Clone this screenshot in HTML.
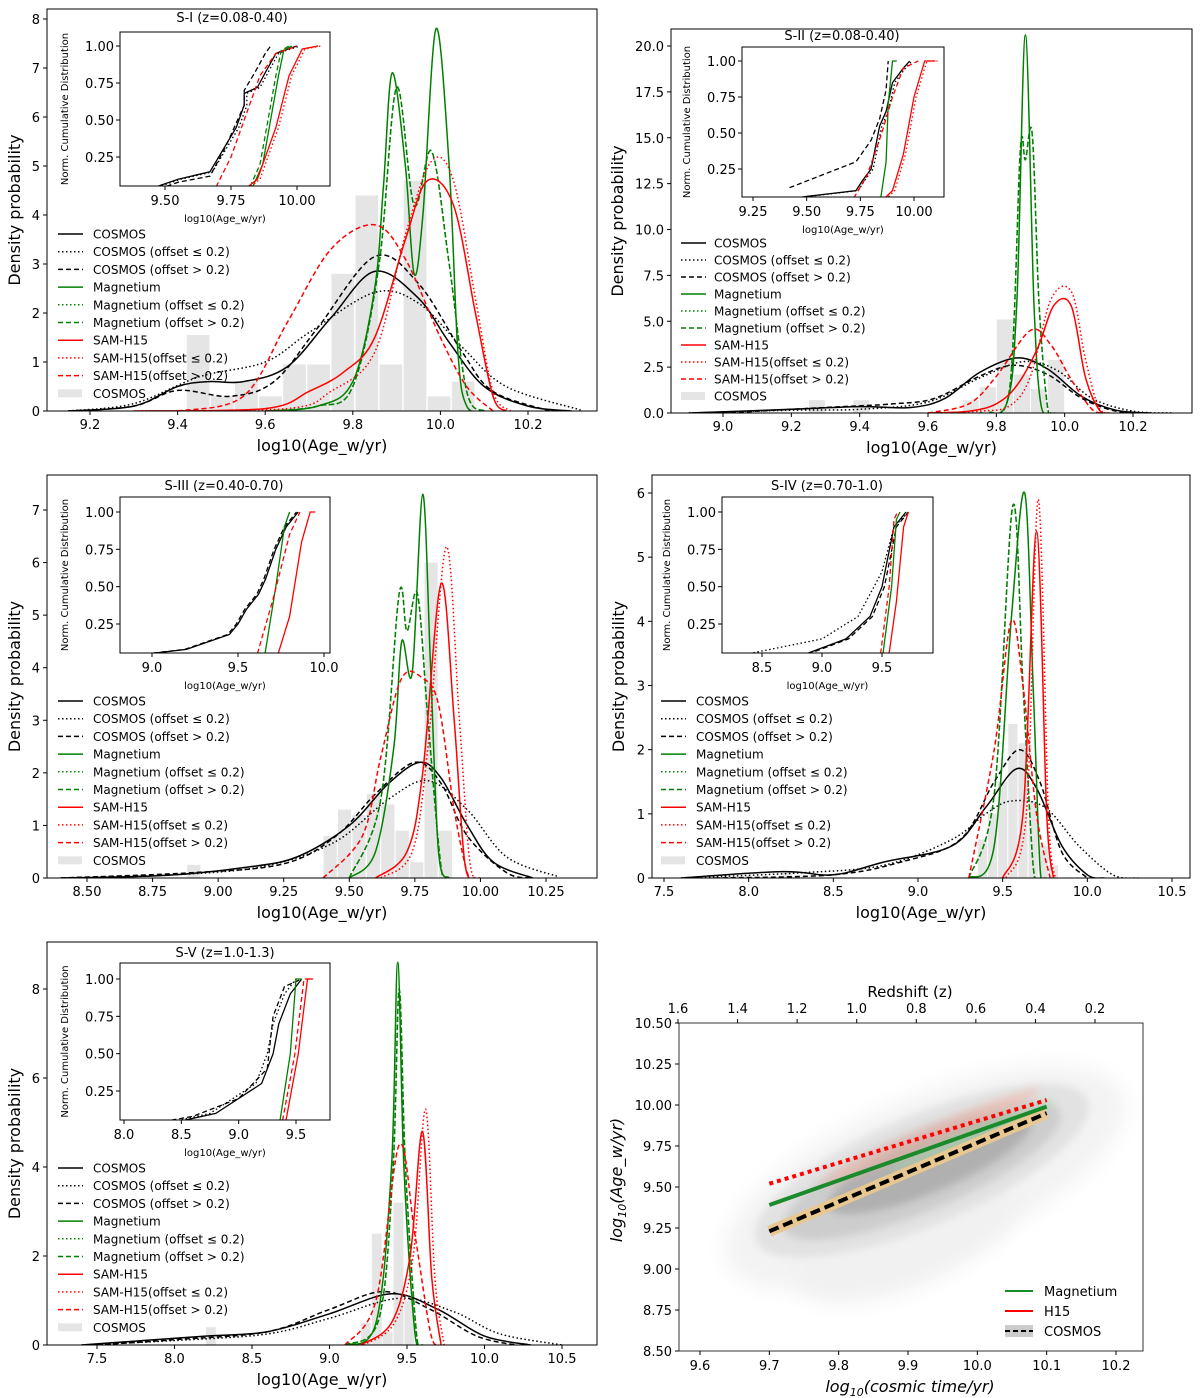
<!DOCTYPE html>
<html><head><meta charset="utf-8"><style>
html,body{margin:0;padding:0;background:#fff;}
svg{display:block;font-family:"DejaVu Sans","Liberation Sans",sans-serif;}
</style></head><body>
<svg id="fig" width="1200" height="1398" viewBox="0 0 1200 1398" xmlns="http://www.w3.org/2000/svg">
<defs>
<filter id="blur" x="-50%" y="-50%" width="200%" height="200%"><feGaussianBlur stdDeviation="10"/></filter>
<filter id="blur2" x="-50%" y="-50%" width="200%" height="200%"><feGaussianBlur stdDeviation="4"/></filter>
</defs>
</svg>
<script>
// ---------- DATA ----------
// Panel 1 (S-I)
const p1_cos=[[9.15,0],[9.3,0.1],[9.4,0.5],[9.47,0.6],[9.55,0.6],[9.65,0.9],[9.75,1.9],[9.85,2.85],[9.95,2.3],[10.02,1.4],[10.1,0.5],[10.2,0.1],[10.3,0]];
const p1_cosDot=[[9.15,0],[9.3,0.15],[9.45,0.7],[9.6,1.0],[9.7,1.6],[9.85,2.42],[9.95,2.2],[10.05,1.3],[10.15,0.5],[10.32,0.02]];
const p1_cosDash=[[9.15,0],[9.3,0.1],[9.4,0.42],[9.52,0.3],[9.62,0.6],[9.72,1.7],[9.85,3.15],[9.95,2.6],[10.05,1.2],[10.12,0.4],[10.25,0]];
const p1_mag=[[9.6,0],[9.72,0.1],[9.8,0.6],[9.85,2.5],[9.87,4.6],[9.89,6.9],[9.92,5],[9.94,2.8],[9.96,4],[9.99,7.8],[10.02,5],[10.04,1.2],[10.06,0.1],[10.1,0]];
const p1_magDash=[[9.6,0],[9.72,0.1],[9.8,0.5],[9.86,3],[9.9,6.6],[9.94,4.2],[9.98,5.3],[10.02,3],[10.06,0.4],[10.1,0]];
const p1_sam=[[9.3,0],[9.6,0.05],[9.7,0.4],[9.78,0.8],[9.85,1.5],[9.92,3.5],[9.97,4.7],[10.03,4.2],[10.08,2],[10.12,0.3],[10.15,0]];
const p1_samDot=[[9.3,0],[9.65,0.05],[9.75,0.4],[9.85,1.2],[9.92,3.6],[9.98,5.1],[10.03,4.7],[10.08,2.3],[10.12,0.4],[10.16,0]];
const p1_samDash=[[9.4,0],[9.55,0.3],[9.65,1.8],[9.75,3.3],[9.85,3.8],[9.92,3.1],[10.0,1.5],[10.06,0.5],[10.12,0]];
const p1_hist=[[9.42,1.55],[9.475,0.3],[9.53,0.6],[9.585,0.3],[9.64,0.95],[9.695,0.95],[9.75,2.8],[9.805,4.4],[9.86,0.95],[9.915,4.7],[9.97,0.3],[10.025,0.6]];
const p1i_cos=[[9.42,0.02],[9.55,0.1],[9.67,0.15],[9.72,0.3],[9.77,0.45],[9.8,0.6],[9.8,0.68],[9.85,0.72],[9.88,0.82],[9.92,0.95],[9.95,0.97],[10.0,1.0]];
const p1i_cosDash=[[9.42,0],[9.55,0.08],[9.67,0.12],[9.73,0.32],[9.8,0.6],[9.8,0.7],[9.84,0.82],[9.88,0.95],[9.9,1.0]];
const p1i_mag=[[9.82,0],[9.87,0.2],[9.9,0.5],[9.93,0.8],[9.95,0.97],[9.98,1.0]];
const p1i_sam=[[9.78,0],[9.85,0.1],[9.92,0.45],[9.97,0.8],[10.02,0.98],[10.08,1.0]];
const p1i_samDash=[[9.68,0],[9.75,0.25],[9.8,0.5],[9.86,0.8],[9.92,0.95],[10.0,1.0]];
// Panel 2 (S-II)
const p2_cos=[[8.9,0],[9.2,0.2],[9.4,0.35],[9.55,0.3],[9.65,0.8],[9.75,2.2],[9.86,3.0],[9.95,2.4],[10.05,0.9],[10.15,0.15],[10.25,0]];
const p2_cosDot=[[8.9,0],[9.2,0.15],[9.4,0.2],[9.6,0.6],[9.75,1.9],[9.88,2.8],[9.98,2.3],[10.08,0.8],[10.2,0.1],[10.32,0]];
const p2_cosDash=[[9.0,0],[9.3,0.3],[9.5,0.5],[9.62,0.8],[9.75,2.0],[9.85,2.6],[9.95,2.1],[10.05,0.8],[10.15,0.1],[10.25,0]];
const p2_mag=[[9.75,0],[9.83,0.5],[9.86,6],[9.885,20.6],[9.91,6],[9.93,0.5],[9.96,0]];
const p2_magDash=[[9.78,0],[9.84,1.5],[9.87,14.3],[9.885,13.8],[9.905,15.2],[9.925,6],[9.95,0.3],[9.97,0]];
const p2_sam=[[9.6,0],[9.72,0.1],[9.8,0.5],[9.86,1.5],[9.92,3.5],[9.97,5.9],[10.02,5.8],[10.06,2],[10.1,0.2],[10.13,0]];
const p2_samDot=[[9.6,0],[9.75,0.1],[9.84,0.4],[9.9,2],[9.96,6.2],[10.02,6.6],[10.06,3],[10.1,0.3],[10.14,0]];
const p2_samDash=[[9.6,0],[9.72,0.5],[9.8,2],[9.9,4.5],[9.96,3.7],[10.02,1.8],[10.08,0.2],[10.12,0]];
const p2_hist=[[9.25,0.7],[9.38,0.7],[9.7,0.7],[9.75,1.4],[9.8,5.1],[9.85,2.1],[9.9,1.3],[9.95,2.9]];
const p2i_cos=[[9.27,0.01],[9.5,0.06],[9.73,0.1],[9.76,0.17],[9.8,0.25],[9.82,0.4],[9.84,0.55],[9.87,0.65],[9.9,0.85],[9.95,0.95],[9.98,1.0]];
const p2i_cosDash=[[9.42,0.12],[9.73,0.3],[9.8,0.45],[9.84,0.6],[9.87,0.8],[9.88,1.0]];
const p2i_mag=[[9.84,0],[9.87,0.3],[9.88,0.7],[9.9,1.0],[9.92,1.0]];
const p2i_sam=[[9.83,0],[9.9,0.1],[9.95,0.35],[10.0,0.75],[10.05,1.0],[10.1,1.0]];
const p2i_samDash=[[9.7,0],[9.78,0.2],[9.85,0.5],[9.9,0.75],[9.95,0.95],[10.02,1.0]];
// Panel 3 (S-III)
const p3_cos=[[8.4,0],[8.8,0.05],[9.1,0.2],[9.3,0.4],[9.5,1.0],[9.65,1.8],[9.77,2.2],[9.85,1.9],[9.95,1.0],[10.05,0.3],[10.2,0]];
const p3_cosDot=[[8.4,0],[8.9,0.08],[9.2,0.25],[9.45,0.7],[9.65,1.5],[9.8,1.85],[9.95,1.3],[10.1,0.4],[10.3,0.02]];
const p3_cosDash=[[8.4,0],[8.9,0.1],[9.25,0.27],[9.45,0.8],[9.6,1.6],[9.75,2.2],[9.85,1.8],[9.95,0.8],[10.1,0.1],[10.2,0]];
const p3_mag=[[9.5,0],[9.6,0.5],[9.67,2.5],[9.7,4.5],[9.74,3.9],[9.78,7.3],[9.81,4],[9.84,0.5],[9.88,0]];
const p3_magDash=[[9.5,0],[9.62,1.5],[9.69,5.4],[9.72,4.7],[9.76,5.4],[9.8,3],[9.85,0.2],[9.88,0]];
const p3_sam=[[9.6,0],[9.72,0.5],[9.78,2],[9.85,5.6],[9.9,3],[9.94,0.3],[9.98,0]];
const p3_samDot=[[9.62,0],[9.74,0.5],[9.8,2.5],[9.87,6.3],[9.92,3],[9.96,0.3],[10.0,0]];
const p3_samDash=[[9.4,0],[9.55,0.8],[9.62,2.3],[9.7,3.8],[9.78,3.8],[9.84,3.3],[9.9,1.3],[9.95,0.1],[9.98,0]];
const p3_hist=[[8.88,0.25],[9.4,0.8],[9.455,1.3],[9.51,1.2],[9.565,1.6],[9.62,1.4],[9.675,0.9],[9.73,0.3],[9.785,6.0],[9.84,0.9]];
const p3i_cos=[[8.6,0],[9.2,0.08],[9.45,0.18],[9.5,0.25],[9.55,0.35],[9.62,0.45],[9.66,0.55],[9.72,0.75],[9.78,0.9],[9.85,1.0]];
const p3i_mag=[[9.65,0],[9.72,0.5],[9.77,0.9],[9.8,1.0]];
const p3i_sam=[[9.72,0],[9.8,0.3],[9.87,0.8],[9.92,1.0],[9.95,1.0]];
const p3i_samDash=[[9.6,0],[9.7,0.4],[9.8,0.85],[9.86,1.0]];
// Panel 4 (S-IV)
const p4_cos=[[7.6,0],[8.2,0.1],[8.5,0.05],[8.8,0.25],[9.2,0.5],[9.4,1.1],[9.58,1.7],[9.7,1.4],[9.85,0.5],[10.0,0.05],[10.1,0]];
const p4_cosDot=[[7.6,0],[8.3,0.08],[8.8,0.2],[9.2,0.6],[9.4,1.0],[9.55,1.2],[9.75,1.1],[9.95,0.5],[10.15,0.05],[10.3,0]];
const p4_cosDash=[[7.8,0],[8.5,0.05],[8.9,0.25],[9.25,0.6],[9.45,1.5],[9.6,2.0],[9.72,1.5],[9.85,0.4],[10.0,0]];
const p4_mag=[[9.3,0],[9.45,0.5],[9.55,4],[9.63,6.0],[9.68,3],[9.72,0.2],[9.75,0]];
const p4_magDash=[[9.3,0],[9.45,1.3],[9.56,5.8],[9.62,3],[9.68,0.2],[9.72,0]];
const p4_sam=[[9.5,0],[9.62,1],[9.7,5.4],[9.76,1],[9.8,0]];
const p4_samDot=[[9.52,0],[9.64,1],[9.71,5.9],[9.77,1],[9.81,0]];
const p4_samDash=[[9.3,0],[9.45,2],[9.55,4.0],[9.62,3],[9.7,1],[9.78,0]];
const p4_hist=[[8.2,0.1],[9.35,0.6],[9.41,1.0],[9.47,1.5],[9.53,2.4],[9.59,2.1],[9.65,1.2],[9.71,0.5],[9.77,0.2]];
const p4i_cos=[[8.2,0],[8.8,0.03],[9.2,0.15],[9.4,0.3],[9.5,0.5],[9.55,0.7],[9.6,0.9],[9.7,1.0]];
const p4i_cosDot=[[8.2,0.02],[9.0,0.15],[9.3,0.3],[9.5,0.6],[9.6,0.9],[9.72,1.0]];
const p4i_mag=[[9.5,0],[9.58,0.5],[9.62,0.95],[9.65,1.0]];
const p4i_sam=[[9.55,0],[9.62,0.4],[9.68,0.9],[9.72,1.0]];
// Panel 5 (S-V)
const p5_cos=[[7.4,0],[7.8,0.1],[8.2,0.2],[8.6,0.3],[9.0,0.7],[9.4,1.15],[9.7,0.8],[10.0,0.2],[10.3,0]];
const p5_cosDot=[[7.4,0],[8.0,0.1],[8.6,0.25],[9.0,0.6],[9.45,1.05],[9.8,0.75],[10.1,0.25],[10.5,0]];
const p5_cosDash=[[7.5,0],[8.0,0.12],[8.6,0.3],[9.0,0.8],[9.35,1.2],[9.65,0.8],[9.95,0.2],[10.2,0]];
const p5_mag=[[9.1,0],[9.3,0.5],[9.4,4],[9.44,8.6],[9.48,4],[9.55,0.3],[9.6,0]];
const p5_magDash=[[9.1,0],[9.32,0.6],[9.41,4],[9.45,8.0],[9.49,4],[9.56,0.3],[9.6,0]];
const p5_sam=[[9.2,0],[9.4,0.5],[9.52,2],[9.6,4.8],[9.66,1.5],[9.72,0]];
const p5_samDot=[[9.22,0],[9.42,0.5],[9.54,2],[9.62,5.3],[9.68,1.5],[9.74,0]];
const p5_samDash=[[9.1,0],[9.3,1],[9.45,4.5],[9.55,2.5],[9.65,0.3],[9.7,0]];
const p5_hist=[[8.2,0.4],[9.2,0.5],[9.27,2.5],[9.34,0.3],[9.41,3.2],[9.48,1.0]];
const p5i_cos=[[8.0,0],[8.5,0.05],[8.8,0.1],[9.0,0.2],[9.2,0.3],[9.3,0.5],[9.35,0.7],[9.45,0.9],[9.55,1.0]];
const p5i_cosDash=[[8.0,0],[8.6,0.08],[9.0,0.2],[9.25,0.4],[9.3,0.75],[9.4,0.95],[9.55,1.0]];
const p5i_mag=[[9.35,0],[9.45,0.5],[9.5,1.0],[9.55,1.0]];
const p5i_sam=[[9.4,0],[9.52,0.5],[9.6,1.0],[9.65,1.0]];
// Panel 6 (trend)
const p6_time=[9.7,10.1];
const p6_h15=[9.52,10.03];
const p6_mag=[9.39,9.99];
const p6_cosmos=[9.23,9.95];
const p6_yticks=[8.50,8.75,9.00,9.25,9.50,9.75,10.00,10.25,10.50];
const p6_xticks=[9.6,9.7,9.8,9.9,10.0,10.1,10.2];
const p6_zticks=["1.6","1.4","1.2","1.0","0.8","0.6","0.4","0.2"];
// ---------- DRAW ----------
const NS="http://www.w3.org/2000/svg";
const fig=document.getElementById('fig');
function el(tag,attrs,parent,text){const e=document.createElementNS(NS,tag);for(const k in attrs)e.setAttribute(k,attrs[k]);if(text!==undefined)e.textContent=text;(parent||fig).appendChild(e);return e;}
function lin(v1,p1,v2,p2){return v=>p1+(v-v1)*(p2-p1)/(v2-v1);}
function smooth(pts){let d='M'+pts[0][0].toFixed(1)+','+pts[0][1].toFixed(1);
for(let i=0;i<pts.length-1;i++){const p0=pts[i-1]||pts[i],p1=pts[i],p2=pts[i+1],p3=pts[i+2]||p2;
const c1=[p1[0]+(p2[0]-p0[0])/6,p1[1]+(p2[1]-p0[1])/6],c2=[p2[0]-(p3[0]-p1[0])/6,p2[1]-(p3[1]-p1[1])/6];
d+=' C'+c1.map(n=>n.toFixed(1))+' '+c2.map(n=>n.toFixed(1))+' '+p2[0].toFixed(1)+','+p2[1].toFixed(1);}return d;}
const GREEN='#008000',RED='#ff0000';
const DASH={solid:'',dot:'1.5,2.5',dash:'5,3'};
let clipN=0;
function panel(c){
 const g=el('g',{});
 
 
 const [L,R,T,B]=c.ax;const X=lin(...c.xr),Y=lin(...c.yr);
 const cid='clip'+(clipN++);const cp=el('clipPath',{id:cid},g);el('rect',{x:L,y:T,width:R-L,height:B-T},cp);
 const plot=el('g',{'clip-path':'url(#'+cid+')'},g);
 c.hist.forEach(h=>{const r=el('rect',{x:X(h[0])+0.5,y:Y(h[1]),width:X(h[0]+c.bw)-X(h[0])-1,height:Y(0)-Y(h[1]),fill:'#e5e5e5'},plot);
  
  });
 c.curves.forEach(cv=>{const p=el('path',{d:smooth(cv.d.map(q=>[X(q[0]),Y(Math.max(0,q[1]))])),fill:'none',stroke:cv.c,'stroke-width':1.5,'stroke-dasharray':DASH[cv.s]},plot);
  
  });
 const fr=el('rect',{x:L,y:T,width:R-L,height:B-T,fill:'none',stroke:'#000','stroke-width':1},g);
 
 
 c.xt.forEach(t=>{const x=X(t);el('line',{x1:x,x2:x,y1:B,y2:B+4,stroke:'#000'},g);const tx=el('text',{x:x,y:B+18,'font-size':13,'text-anchor':'middle'},g,c.xf(t));
  
  });
 c.yt.forEach(t=>{const y=Y(t);el('line',{x1:L,x2:L-4,y1:y,y2:y,stroke:'#000'},g);const tx=el('text',{x:L-7,y:y+5,'font-size':13,'text-anchor':'end'},g,c.yf(t));
  
  });
 const xl=el('text',{x:(L+R)/2,y:B+40,'font-size':16,'text-anchor':'middle'},g,'log10(Age_w/yr)');
 
 
 const yl=el('text',{x:0,y:0,'font-size':16,'text-anchor':'middle',transform:'translate('+c.ylx+','+(T+B)/2+') rotate(-90)'},g,'Density probability');
 
 
 const [iL,iR,iT,iB]=c.in;const IX=lin(...c.ixr),IY=lin(1,c.iy1,0.25,c.iy25);
 const ig=el('g',{},g);
 
 
 el('rect',{x:iL,y:iT,width:iR-iL,height:iB-iT,fill:'#fff'},ig);
 const icid='clip'+(clipN++);const icp=el('clipPath',{id:icid},ig);el('rect',{x:iL,y:iT,width:iR-iL,height:iB-iT},icp);
 const ip=el('g',{'clip-path':'url(#'+icid+')'},ig);
 c.icurves.forEach(cv=>{const p=el('polyline',{points:cv.d.map(q=>IX(q[0]).toFixed(1)+','+IY(q[1]).toFixed(1)).join(' '),fill:'none',stroke:cv.c,'stroke-width':1.3,'stroke-dasharray':DASH[cv.s]},ip);
  
  });
 el('rect',{x:iL,y:iT,width:iR-iL,height:iB-iT,fill:'none',stroke:'#000'},ig);
 [0.25,0.5,0.75,1].forEach(t=>{const y=IY(t);el('line',{x1:iL,x2:iL-4,y1:y,y2:y,stroke:'#000'},ig);el('text',{x:iL-6,y:y+5,'font-size':13,'text-anchor':'end'},ig,t.toFixed(2));});
 c.ixt.forEach(t=>{const x=IX(t);el('line',{x1:x,x2:x,y1:iB,y2:iB+4,stroke:'#000'},ig);el('text',{x:x,y:iB+19,'font-size':13,'text-anchor':'middle'},ig,c.ixf(t));});
 el('text',{x:(iL+iR)/2,y:iB+36,'font-size':10,'text-anchor':'middle'},ig,'log10(Age_w/yr)');
 el('text',{x:0,y:0,'font-size':10,'text-anchor':'middle',transform:'translate('+(iL-52)+','+(iT+iB)/2+') rotate(-90)'},ig,'Norm. Cumulative Distribution');
 const tt=el('text',{x:c.title[1],y:c.title[2],'font-size':13,'text-anchor':'middle'},g,c.title[0]);
 
 
 const labs=[['COSMOS','#000','solid'],['COSMOS (offset \u2264 0.2)','#000','dot'],['COSMOS (offset > 0.2)','#000','dash'],['Magnetium',GREEN,'solid'],['Magnetium (offset \u2264 0.2)',GREEN,'dot'],['Magnetium (offset > 0.2)',GREEN,'dash'],['SAM-H15',RED,'solid'],['SAM-H15(offset \u2264 0.2)',RED,'dot'],['SAM-H15(offset > 0.2)',RED,'dash'],['COSMOS','#ddd','patch']];
 const lg=el('g',{},g);
 
 
 labs.forEach((lb,i)=>{const y=c.leg[1]+i*c.leg[2];const x=c.leg[0];
  if(lb[2]==='patch')el('rect',{x:x,y:y-4,width:24,height:8,fill:'#e5e5e5'},lg);
  else el('line',{x1:x,x2:x+25,y1:y,y2:y,stroke:lb[1],'stroke-width':1.5,'stroke-dasharray':DASH[lb[2]]},lg);
  const t=el('text',{x:x+c.leg[3],y:y+4.5,'font-size':12},lg,lb[0]);
  
  });
}
function cv(n,d,c,s){return {n:n,d:d,c:c,s:s};}
function stdCurves(p){return [cv('cosmos-kde',p.cos,'#000','solid'),cv('cosmos-kde-low-offset',p.cosDot,'#000','dot'),cv('cosmos-kde-high-offset',p.cosDash,'#000','dash'),
 cv('magnetium-kde-low-offset',p.magDash,GREEN,'dot'),cv('magnetium-kde-high-offset',p.magDash,GREEN,'dash'),cv('magnetium-kde',p.mag,GREEN,'solid'),
 cv('sam-kde-low-offset',p.samDot,RED,'dot'),cv('sam-kde-high-offset',p.samDash,RED,'dash'),cv('sam-kde',p.sam,RED,'solid')];}
const f1=t=>t.toFixed(1),f0=t=>String(t),f2=t=>t.toFixed(2);
panel({name:'panel-s1',ax:[47,597,9,411],xr:[9.2,90,10.2,528],yr:[0,411,8,19],bw:0.054,hist:p1_hist,
 curves:stdCurves({cos:p1_cos,cosDot:p1_cosDot,cosDash:p1_cosDash,mag:p1_mag,magDash:p1_magDash,sam:p1_sam,samDot:p1_samDot,samDash:p1_samDash}),
 xt:[9.2,9.4,9.6,9.8,10.0,10.2],xf:f1,yt:[0,1,2,3,4,5,6,7,8],yf:f0,ylx:20,
 in:[120,330,32,186],ixr:[9.5,165,10,297],iy1:46,iy25:157,ixt:[9.5,9.75,10.0],ixf:f2,
 icurves:[cv('cdf-cosmos',p1i_cos,'#000','solid'),cv('cdf-cosmos-dash',p1i_cosDash,'#000','dash'),cv('cdf-cosmos-dot',p1i_cos.map(q=>[q[0]+0.01,q[1]]),'#000','dot'),cv('cdf-mag',p1i_mag,GREEN,'solid'),cv('cdf-mag-dash',p1i_mag.map(q=>[q[0]-0.01,q[1]]),GREEN,'dash'),cv('cdf-sam',p1i_sam,RED,'solid'),cv('cdf-sam-dot',p1i_sam.map(q=>[q[0]+0.01,q[1]]),RED,'dot'),cv('cdf-sam-dash',p1i_samDash,RED,'dash')],
 title:['S-I (z=0.08-0.40)',232,22],leg:[58,234,17.7,35]});
panel({name:'panel-s2',ax:[671,1192,29,413],xr:[9.0,723,10.2,1133],yr:[0,413,20,46],bw:0.05,hist:p2_hist,
 curves:stdCurves({cos:p2_cos,cosDot:p2_cosDot,cosDash:p2_cosDash,mag:p2_mag,magDash:p2_magDash,sam:p2_sam,samDot:p2_samDot,samDash:p2_samDash}),
 xt:[9.0,9.2,9.4,9.6,9.8,10.0,10.2],xf:f1,yt:[0,2.5,5,7.5,10,12.5,15,17.5,20],yf:f1,ylx:623,
 in:[742,944,47,197],ixr:[9.25,753,10,914],iy1:61,iy25:169,ixt:[9.25,9.5,9.75,10.0],ixf:f2,
 icurves:[cv('cdf-cosmos',p2i_cos,'#000','solid'),cv('cdf-cosmos-dot',p2i_cos.map(q=>[q[0]+0.01,q[1]]),'#000','dot'),cv('cdf-cosmos-dash',p2i_cosDash,'#000','dash'),cv('cdf-mag',p2i_mag,GREEN,'solid'),cv('cdf-sam',p2i_sam,RED,'solid'),cv('cdf-sam-dot',p2i_sam.map(q=>[q[0]+0.01,q[1]]),RED,'dot'),cv('cdf-sam-dash',p2i_samDash,RED,'dash')],
 title:['S-II (z=0.08-0.40)',842,40],leg:[681,243,17,33]});
panel({name:'panel-s3',ax:[47,597,475,878],xr:[8.5,87,10.25,546],yr:[0,878,7,510],bw:0.054,hist:p3_hist,
 curves:stdCurves({cos:p3_cos,cosDot:p3_cosDot,cosDash:p3_cosDash,mag:p3_mag,magDash:p3_magDash,sam:p3_sam,samDot:p3_samDot,samDash:p3_samDash}),
 xt:[8.5,8.75,9,9.25,9.5,9.75,10,10.25],xf:f2,yt:[0,1,2,3,4,5,6,7],yf:f0,ylx:20,
 in:[120,330,497,653],ixr:[9,152,10,324],iy1:512,iy25:624,ixt:[9,9.5,10],ixf:f1,
 icurves:[cv('cdf-cosmos',p3i_cos,'#000','solid'),cv('cdf-cosmos-dash',p3i_cos.map(q=>[q[0]-0.01,q[1]]),'#000','dash'),cv('cdf-mag',p3i_mag,GREEN,'solid'),cv('cdf-sam',p3i_sam,RED,'solid'),cv('cdf-sam-dash',p3i_samDash,RED,'dash')],
 title:['S-III (z=0.40-0.70)',224,490],leg:[58,701,17.7,35]});
panel({name:'panel-s4',ax:[652,1190,475,878],xr:[7.5,664,10.5,1172],yr:[0,878,6,493],bw:0.06,hist:p4_hist,
 curves:stdCurves({cos:p4_cos,cosDot:p4_cosDot,cosDash:p4_cosDash,mag:p4_mag,magDash:p4_magDash,sam:p4_sam,samDot:p4_samDot,samDash:p4_samDash}),
 xt:[7.5,8,8.5,9,9.5,10,10.5],xf:f1,yt:[0,1,2,3,4,5,6],yf:f0,ylx:624,
 in:[722,933,497,653],ixr:[8.5,762,9.5,882],iy1:512,iy25:624,ixt:[8.5,9,9.5],ixf:f1,
 icurves:[cv('cdf-cosmos',p4i_cos,'#000','solid'),cv('cdf-cosmos-dot',p4i_cosDot,'#000','dot'),cv('cdf-cosmos-dash',p4i_cos.map(q=>[q[0]+0.02,q[1]]),'#000','dash'),cv('cdf-mag',p4i_mag,GREEN,'solid'),cv('cdf-sam',p4i_sam,RED,'solid'),cv('cdf-sam-dash',p4i_mag.map(q=>[q[0]-0.02,q[1]]),RED,'dash')],
 title:['S-IV (z=0.70-1.0)',827,490],leg:[661,701,17.7,35]});
panel({name:'panel-s5',ax:[47,597,942,1345],xr:[7.5,97,10.5,562],yr:[0,1345,8,989],bw:0.07,hist:p5_hist,
 curves:stdCurves({cos:p5_cos,cosDot:p5_cosDot,cosDash:p5_cosDash,mag:p5_mag,magDash:p5_magDash,sam:p5_sam,samDot:p5_samDot,samDash:p5_samDash}),
 xt:[7.5,8,8.5,9,9.5,10,10.5],xf:f1,yt:[0,2,4,6,8],yf:f0,ylx:20,
 in:[120,330,963,1120],ixr:[8,124,9.5,296],iy1:979,iy25:1091,ixt:[8,8.5,9,9.5],ixf:f1,
 icurves:[cv('cdf-cosmos',p5i_cos,'#000','solid'),cv('cdf-cosmos-dot',p5i_cos.map(q=>[q[0]-0.05,q[1]]),'#000','dot'),cv('cdf-cosmos-dash',p5i_cosDash,'#000','dash'),cv('cdf-mag',p5i_mag,GREEN,'solid'),cv('cdf-sam',p5i_sam,RED,'solid'),cv('cdf-sam-dash',p5i_sam.map(q=>[q[0]-0.03,q[1]]),RED,'dash')],
 title:['S-V (z=1.0-1.3)',225,957],leg:[58,1168,17.7,35]});
// Panel 6
(function(){
 const L=679,R=1143,T=1023,B=1351;
 const X=lin(9.6,700,10.2,1116),Y=lin(8.5,1351,10.5,1023);
 const g=el('g',{});
 
 
 const cid='clip'+(clipN++);const cp=el('clipPath',{id:cid},g);el('rect',{x:L,y:T,width:R-L,height:B-T},cp);
 const pg=el('g',{'clip-path':'url(#'+cid+')'},g);
 const ang=Math.atan2(Y(p6_cosmos[1])-Y(p6_cosmos[0]),X(p6_time[1])-X(p6_time[0]))*180/Math.PI;
 const cx=X(9.92),cy=Y(9.6);
 const kd=el('g',{transform:'rotate('+ang.toFixed(1)+' '+cx+' '+cy+')'},pg);
 
 
 el('ellipse',{cx:cx,cy:cy+8,rx:215,ry:80,fill:'#f3f3f3',filter:'url(#blur)'},kd);
 el('ellipse',{cx:cx-40,cy:cy+55,rx:120,ry:50,fill:'#f1f1f1',filter:'url(#blur)'},kd);
 el('ellipse',{cx:cx,cy:cy,rx:180,ry:55,fill:'#e2e2e2',filter:'url(#blur2)'},kd);
 el('ellipse',{cx:cx,cy:cy,rx:150,ry:40,fill:'#cdcdcd',filter:'url(#blur2)'},kd);
 el('ellipse',{cx:cx+10,cy:cy-3,rx:110,ry:28,fill:'#b0b0b0',filter:'url(#blur2)'},kd);
 el('ellipse',{cx:cx+20,cy:cy-28,rx:120,ry:10,fill:'#f4b0a0',opacity:0.5,filter:'url(#blur2)'},kd);
 el('ellipse',{cx:cx+60,cy:cy-12,rx:90,ry:8,fill:'#a8d8a8',opacity:0.5,filter:'url(#blur2)'},kd);
 const band=el('line',{x1:X(p6_time[0]),y1:Y(p6_cosmos[0]),x2:X(p6_time[1]),y2:Y(p6_cosmos[1]),stroke:'#e8c890','stroke-width':11},pg);
 
 
 const lc=el('line',{x1:X(p6_time[0]),y1:Y(p6_cosmos[0]),x2:X(p6_time[1]),y2:Y(p6_cosmos[1]),stroke:'#000','stroke-width':4,'stroke-dasharray':'10,5'},pg);
 
 
 const lm=el('line',{x1:X(p6_time[0]),y1:Y(p6_mag[0]),x2:X(p6_time[1]),y2:Y(p6_mag[1]),stroke:'#1a8a2a','stroke-width':4},pg);
 
 
 const lh=el('line',{x1:X(p6_time[0]),y1:Y(p6_h15[0]),x2:X(p6_time[1]),y2:Y(p6_h15[1]),stroke:RED,'stroke-width':4,'stroke-dasharray':'4,4'},pg);
 
 
 el('rect',{x:L,y:T,width:R-L,height:B-T,fill:'none',stroke:'#333'},g);
 p6_xticks.forEach(t=>{const x=X(t);el('line',{x1:x,x2:x,y1:B,y2:B+4,stroke:'#000'},g);el('text',{x:x,y:B+19,'font-size':13,'text-anchor':'middle'},g,t.toFixed(1));});
 p6_yticks.forEach(t=>{const y=Y(t);el('line',{x1:L,x2:L-4,y1:y,y2:y,stroke:'#000'},g);el('text',{x:L-7,y:y+5,'font-size':13,'text-anchor':'end'},g,t.toFixed(2));});
 const Z=lin(0,678,7,1095);
 p6_zticks.forEach((t,i)=>{const x=Z(i);el('line',{x1:x,x2:x,y1:T,y2:T-4,stroke:'#000'},g);el('text',{x:x,y:T-10,'font-size':13,'text-anchor':'middle'},g,t);});
 const zt=el('text',{x:910,y:997,'font-size':15,'text-anchor':'middle'},g,'Redshift (z)');
 
 
 const xt=el('text',{x:910,y:1392,'font-size':16,'text-anchor':'middle','font-style':'italic'},g);
 
 
 xt.innerHTML='log<tspan font-size="11" dy="4">10</tspan><tspan dy="-4">(cosmic time/yr)</tspan>';
 const yt=el('text',{x:0,y:0,'font-size':16,'text-anchor':'middle','font-style':'italic',transform:'translate(622,1180) rotate(-90)'},g);
 
 
 yt.innerHTML='log<tspan font-size="11" dy="4">10</tspan><tspan dy="-4">(Age_w/yr)</tspan>';
 const lg=el('g',{},g);
 
 
 [['Magnetium','#1a8a2a',''],['H15',RED,''],['COSMOS','#000','5,3']].forEach((e,i)=>{const y=1291+i*20;
  if(i===2)el('rect',{x:1005,y:y-6,width:28,height:12,fill:'#ccc'},lg);
  el('line',{x1:1005,x2:1033,y1:y,y2:y,stroke:e[1],'stroke-width':2,'stroke-dasharray':e[2]},lg);
  const t=el('text',{x:1044,y:y+5,'font-size':13},lg,e[0]);
  
  });
})();
</script>
</body></html>
